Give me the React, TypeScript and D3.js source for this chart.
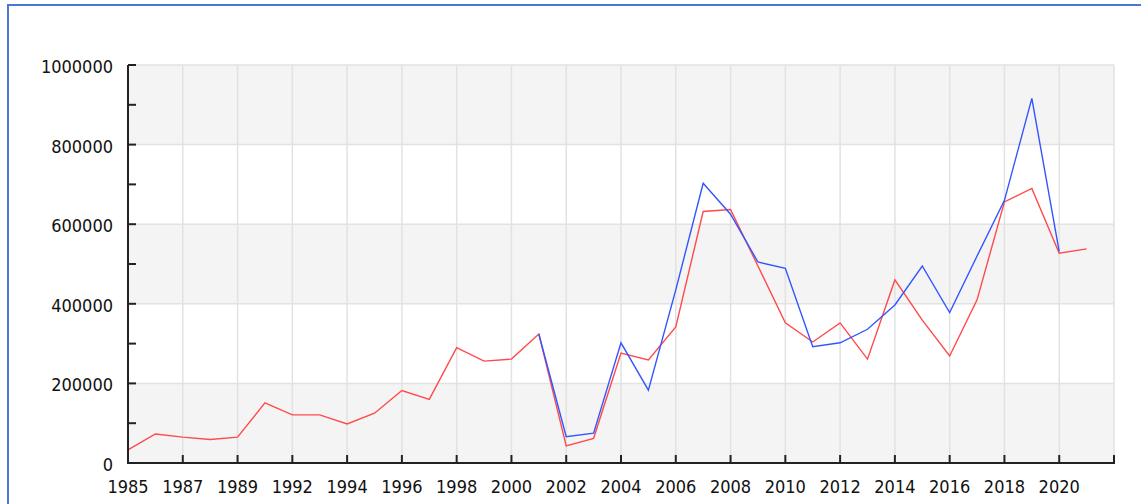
import { useEffect, useRef } from 'react';
import * as d3 from 'd3';

// categories (one year is missing between 1989 and 1992)
const years = [
  1985, 1986, 1987, 1988, 1989, 1990, 1992, 1993, 1994, 1995, 1996, 1997,
  1998, 1999, 2000, 2001, 2002, 2003, 2004, 2005, 2006, 2007, 2008, 2009,
  2010, 2011, 2012, 2013, 2014, 2015, 2016, 2017, 2018, 2019, 2020, 2021,
];

const redValues = [
  33000, 73000, 65000, 59000, 65000, 151000, 121000, 121000, 98000, 125000, 182000, 160000,
  290000, 256000, 261000, 324000, 43000, 62000, 276000, 259000, 342000, 632000, 637000, 495000,
  352000, 304000, 352000, 261000, 460000, 359000, 269000, 410000, 656000, 690000, 527000, 538000,
];

// blue starts in 2001
const blueStart = 15;
const blueValues = [
  324000, 66000, 75000, 302000, 183000, 435000, 703000, 625000, 505000, 489000,
  292000, 302000, 336000, 397000, 495000, 378000, 520000, 660000, 916000, 531000,
];

const yTicks = [0, 200000, 400000, 600000, 800000, 1000000];

const W = 1141;
const H = 504;
const left = 128, right = 1114, top = 65, bottom = 463;

const App = () => {
  const svgRef = useRef<SVGSVGElement | null>(null);

  useEffect(() => {
    const svg = d3.select(svgRef.current);
    svg.selectAll('*').remove();

    const x = d3.scaleLinear().domain([0, years.length]).range([left, right]);
    const y = d3.scaleLinear().domain([0, 1000000]).range([bottom, top]);

    // frame
    svg.append('rect')
      .attr('x', 8).attr('y', 5)
      .attr('width', W + 20).attr('height', H + 20)
      .attr('fill', '#fff')
      .attr('stroke', '#4a76d4')
      .attr('stroke-width', 2);

    // alternating bands
    const bands = [[0, 200000], [400000, 600000], [800000, 1000000]];
    svg.append('g').selectAll('rect')
      .data(bands)
      .enter()
      .append('rect')
      .attr('x', left)
      .attr('y', d => y(d[1]))
      .attr('width', right - left)
      .attr('height', d => y(d[0]) - y(d[1]))
      .attr('fill', '#f4f4f4');

    // grid
    const xTickIdx = d3.range(0, years.length + 1, 2);
    const grid = svg.append('g').attr('stroke', '#e2e2e2').attr('stroke-width', 1.5);
    grid.selectAll('.hg')
      .data(yTicks)
      .enter()
      .append('line')
      .attr('x1', left).attr('x2', right)
      .attr('y1', d => y(d)).attr('y2', d => y(d));
    grid.selectAll('.vg')
      .data(xTickIdx)
      .enter()
      .append('line')
      .attr('x1', d => x(d)).attr('x2', d => x(d))
      .attr('y1', top).attr('y2', bottom);

    // lines
    const redLine = d3.line<number>()
      .x((_, i) => x(i))
      .y(d => y(d));
    svg.append('path')
      .datum(redValues)
      .attr('fill', 'none')
      .attr('stroke', '#ff4a4a')
      .attr('stroke-width', 1.4)
      .attr('d', redLine);

    const blueLine = d3.line<number>()
      .x((_, i) => x(i + blueStart))
      .y(d => y(d));
    svg.append('path')
      .datum(blueValues)
      .attr('fill', 'none')
      .attr('stroke', '#3355ff')
      .attr('stroke-width', 1.4)
      .attr('d', blueLine);

    // axes
    const axes = svg.append('g').attr('stroke', '#222').attr('stroke-width', 2);
    axes.append('line').attr('x1', left).attr('x2', left).attr('y1', top).attr('y2', bottom);
    axes.append('line').attr('x1', left - 1).attr('x2', right + 1).attr('y1', bottom).attr('y2', bottom);
    axes.selectAll('.yt')
      .data(d3.range(0, 1000001, 100000))
      .enter()
      .append('line')
      .attr('x1', left).attr('x2', left + 8)
      .attr('y1', d => y(d)).attr('y2', d => y(d));
    axes.selectAll('.xt')
      .data(xTickIdx)
      .enter()
      .append('line')
      .attr('x1', d => x(d)).attr('x2', d => x(d))
      .attr('y1', bottom).attr('y2', bottom - 8);

    const font = '"DejaVu Sans Condensed", "DejaVu Sans", sans-serif';
    svg.append('g').selectAll('text')
      .data(yTicks)
      .enter()
      .append('text')
      .attr('x', 113)
      .attr('y', d => y(d) + 8)
      .attr('text-anchor', 'end')
      .attr('font-family', font)
      .attr('font-size', 18)
      .attr('fill', '#111')
      .text(d => String(d));

    svg.append('g').selectAll('text')
      .data(xTickIdx.filter(i => i < years.length))
      .enter()
      .append('text')
      .attr('x', d => x(d))
      .attr('y', 493)
      .attr('text-anchor', 'middle')
      .attr('font-family', font)
      .attr('font-size', 18)
      .attr('fill', '#111')
      .text(d => String(years[d]));
  }, []);

  return (
    <svg ref={svgRef} width={W} height={H} style={{ position: 'absolute', left: 0, top: 0 }} />
  );
};

export default App;
